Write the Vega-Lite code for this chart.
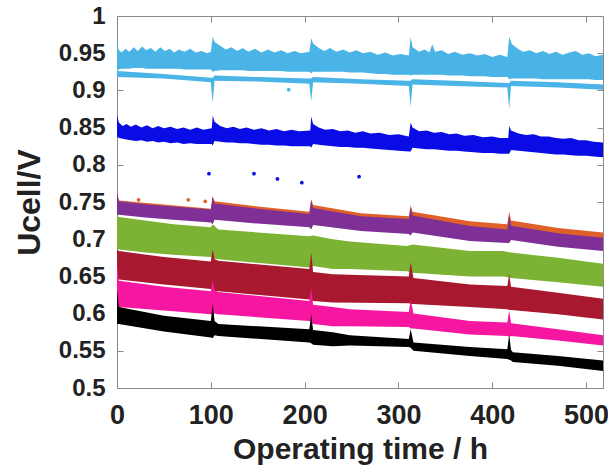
{
  "$schema": "https://vega.github.io/schema/vega-lite/v6.json",
  "width": 486,
  "height": 372,
  "autosize": "none",
  "padding": {"left": 117, "top": 16, "right": 5, "bottom": 83},
  "background": "white",
  "config": {
    "view": {"stroke": "#8a8a8a", "strokeWidth": 1},
    "axis": {
      "labelFont": "Liberation Sans",
      "labelFontWeight": "bold",
      "labelColor": "#222222",
      "titleFont": "Liberation Sans",
      "titleFontWeight": "bold",
      "titleColor": "#222222",
      "domainColor": "#8a8a8a",
      "tickColor": "#8a8a8a",
      "tickSize": -6,
      "grid": false,
      "labelFlush": false,
      "labelOverlap": false
    }
  },
  "datasets": {
    "bands": [
      {"s": "c1", "t": 0, "lo": 0.925, "hi": 0.970},
      {"s": "c1", "t": 1.5, "lo": 0.928, "hi": 0.955},
      {"s": "c1", "t": 5, "lo": 0.929, "hi": 0.951},
      {"s": "c1", "t": 9, "lo": 0.929, "hi": 0.956},
      {"s": "c1", "t": 13, "lo": 0.929, "hi": 0.952},
      {"s": "c1", "t": 18, "lo": 0.930, "hi": 0.958},
      {"s": "c1", "t": 22, "lo": 0.930, "hi": 0.953},
      {"s": "c1", "t": 27, "lo": 0.930, "hi": 0.959},
      {"s": "c1", "t": 31, "lo": 0.929, "hi": 0.954},
      {"s": "c1", "t": 36, "lo": 0.929, "hi": 0.957},
      {"s": "c1", "t": 41, "lo": 0.929, "hi": 0.952},
      {"s": "c1", "t": 46, "lo": 0.929, "hi": 0.958},
      {"s": "c1", "t": 51, "lo": 0.929, "hi": 0.953},
      {"s": "c1", "t": 56, "lo": 0.929, "hi": 0.956},
      {"s": "c1", "t": 61, "lo": 0.929, "hi": 0.951},
      {"s": "c1", "t": 66, "lo": 0.929, "hi": 0.955},
      {"s": "c1", "t": 72, "lo": 0.928, "hi": 0.952},
      {"s": "c1", "t": 78, "lo": 0.928, "hi": 0.956},
      {"s": "c1", "t": 84, "lo": 0.928, "hi": 0.951},
      {"s": "c1", "t": 90, "lo": 0.928, "hi": 0.953},
      {"s": "c1", "t": 96, "lo": 0.928, "hi": 0.950},
      {"s": "c1", "t": 100, "lo": 0.928, "hi": 0.952},
      {"s": "c1", "t": 102, "lo": 0.925, "hi": 0.972},
      {"s": "c1", "t": 104, "lo": 0.926, "hi": 0.965},
      {"s": "c1", "t": 110, "lo": 0.927, "hi": 0.960},
      {"s": "c1", "t": 116, "lo": 0.927, "hi": 0.955},
      {"s": "c1", "t": 122, "lo": 0.927, "hi": 0.958},
      {"s": "c1", "t": 128, "lo": 0.927, "hi": 0.953},
      {"s": "c1", "t": 134, "lo": 0.927, "hi": 0.957},
      {"s": "c1", "t": 140, "lo": 0.926, "hi": 0.952},
      {"s": "c1", "t": 147, "lo": 0.926, "hi": 0.956},
      {"s": "c1", "t": 154, "lo": 0.926, "hi": 0.951},
      {"s": "c1", "t": 161, "lo": 0.926, "hi": 0.955},
      {"s": "c1", "t": 168, "lo": 0.926, "hi": 0.951},
      {"s": "c1", "t": 175, "lo": 0.926, "hi": 0.954},
      {"s": "c1", "t": 182, "lo": 0.925, "hi": 0.950},
      {"s": "c1", "t": 189, "lo": 0.925, "hi": 0.953},
      {"s": "c1", "t": 196, "lo": 0.925, "hi": 0.950},
      {"s": "c1", "t": 205, "lo": 0.925, "hi": 0.952},
      {"s": "c1", "t": 207, "lo": 0.923, "hi": 0.970},
      {"s": "c1", "t": 209, "lo": 0.925, "hi": 0.963},
      {"s": "c1", "t": 215, "lo": 0.925, "hi": 0.957},
      {"s": "c1", "t": 221, "lo": 0.925, "hi": 0.953},
      {"s": "c1", "t": 227, "lo": 0.925, "hi": 0.957},
      {"s": "c1", "t": 234, "lo": 0.925, "hi": 0.952},
      {"s": "c1", "t": 241, "lo": 0.925, "hi": 0.955},
      {"s": "c1", "t": 248, "lo": 0.924, "hi": 0.951},
      {"s": "c1", "t": 255, "lo": 0.924, "hi": 0.954},
      {"s": "c1", "t": 262, "lo": 0.924, "hi": 0.950},
      {"s": "c1", "t": 270, "lo": 0.923, "hi": 0.952},
      {"s": "c1", "t": 278, "lo": 0.922, "hi": 0.948},
      {"s": "c1", "t": 286, "lo": 0.922, "hi": 0.951},
      {"s": "c1", "t": 294, "lo": 0.921, "hi": 0.947},
      {"s": "c1", "t": 302, "lo": 0.921, "hi": 0.949},
      {"s": "c1", "t": 311, "lo": 0.921, "hi": 0.947},
      {"s": "c1", "t": 313, "lo": 0.920, "hi": 0.972},
      {"s": "c1", "t": 315, "lo": 0.921, "hi": 0.958},
      {"s": "c1", "t": 322, "lo": 0.921, "hi": 0.952},
      {"s": "c1", "t": 328, "lo": 0.921, "hi": 0.955},
      {"s": "c1", "t": 333, "lo": 0.921, "hi": 0.951},
      {"s": "c1", "t": 336, "lo": 0.921, "hi": 0.962},
      {"s": "c1", "t": 339, "lo": 0.921, "hi": 0.952},
      {"s": "c1", "t": 346, "lo": 0.921, "hi": 0.954},
      {"s": "c1", "t": 353, "lo": 0.920, "hi": 0.949},
      {"s": "c1", "t": 360, "lo": 0.920, "hi": 0.952},
      {"s": "c1", "t": 368, "lo": 0.920, "hi": 0.948},
      {"s": "c1", "t": 376, "lo": 0.919, "hi": 0.950},
      {"s": "c1", "t": 384, "lo": 0.919, "hi": 0.947},
      {"s": "c1", "t": 392, "lo": 0.919, "hi": 0.949},
      {"s": "c1", "t": 400, "lo": 0.918, "hi": 0.945},
      {"s": "c1", "t": 408, "lo": 0.918, "hi": 0.948},
      {"s": "c1", "t": 416, "lo": 0.918, "hi": 0.945},
      {"s": "c1", "t": 418, "lo": 0.915, "hi": 0.972},
      {"s": "c1", "t": 421, "lo": 0.916, "hi": 0.962},
      {"s": "c1", "t": 427, "lo": 0.916, "hi": 0.956},
      {"s": "c1", "t": 433, "lo": 0.916, "hi": 0.952},
      {"s": "c1", "t": 440, "lo": 0.916, "hi": 0.954},
      {"s": "c1", "t": 447, "lo": 0.916, "hi": 0.950},
      {"s": "c1", "t": 454, "lo": 0.915, "hi": 0.953},
      {"s": "c1", "t": 461, "lo": 0.915, "hi": 0.949},
      {"s": "c1", "t": 468, "lo": 0.915, "hi": 0.952},
      {"s": "c1", "t": 475, "lo": 0.915, "hi": 0.948},
      {"s": "c1", "t": 482, "lo": 0.915, "hi": 0.951},
      {"s": "c1", "t": 489, "lo": 0.915, "hi": 0.953},
      {"s": "c1", "t": 496, "lo": 0.915, "hi": 0.948},
      {"s": "c1", "t": 503, "lo": 0.915, "hi": 0.950},
      {"s": "c1", "t": 510, "lo": 0.914, "hi": 0.946},
      {"s": "c1", "t": 518, "lo": 0.914, "hi": 0.948},

      {"s": "c2", "t": 0, "lo": 0.918, "hi": 0.926},
      {"s": "c2", "t": 50, "lo": 0.916, "hi": 0.922},
      {"s": "c2", "t": 100, "lo": 0.911, "hi": 0.917},
      {"s": "c2", "t": 102, "lo": 0.883, "hi": 0.917},
      {"s": "c2", "t": 104, "lo": 0.913, "hi": 0.920},
      {"s": "c2", "t": 150, "lo": 0.912, "hi": 0.918},
      {"s": "c2", "t": 205, "lo": 0.909, "hi": 0.916},
      {"s": "c2", "t": 207, "lo": 0.885, "hi": 0.916},
      {"s": "c2", "t": 209, "lo": 0.911, "hi": 0.918},
      {"s": "c2", "t": 260, "lo": 0.909, "hi": 0.915},
      {"s": "c2", "t": 311, "lo": 0.906, "hi": 0.913},
      {"s": "c2", "t": 313, "lo": 0.878, "hi": 0.913},
      {"s": "c2", "t": 315, "lo": 0.908, "hi": 0.915},
      {"s": "c2", "t": 360, "lo": 0.906, "hi": 0.913},
      {"s": "c2", "t": 416, "lo": 0.904, "hi": 0.910},
      {"s": "c2", "t": 418, "lo": 0.875, "hi": 0.910},
      {"s": "c2", "t": 420, "lo": 0.906, "hi": 0.913},
      {"s": "c2", "t": 470, "lo": 0.904, "hi": 0.911},
      {"s": "c2", "t": 518, "lo": 0.901, "hi": 0.908},

      {"s": "c3", "t": 0, "lo": 0.838, "hi": 0.867},
      {"s": "c3", "t": 2, "lo": 0.836, "hi": 0.857},
      {"s": "c3", "t": 6, "lo": 0.835, "hi": 0.852},
      {"s": "c3", "t": 10, "lo": 0.834, "hi": 0.855},
      {"s": "c3", "t": 15, "lo": 0.833, "hi": 0.851},
      {"s": "c3", "t": 20, "lo": 0.832, "hi": 0.854},
      {"s": "c3", "t": 26, "lo": 0.833, "hi": 0.850},
      {"s": "c3", "t": 32, "lo": 0.831, "hi": 0.853},
      {"s": "c3", "t": 38, "lo": 0.832, "hi": 0.849},
      {"s": "c3", "t": 44, "lo": 0.830, "hi": 0.852},
      {"s": "c3", "t": 50, "lo": 0.831, "hi": 0.849},
      {"s": "c3", "t": 57, "lo": 0.829, "hi": 0.851},
      {"s": "c3", "t": 64, "lo": 0.830, "hi": 0.848},
      {"s": "c3", "t": 71, "lo": 0.828, "hi": 0.850},
      {"s": "c3", "t": 78, "lo": 0.829, "hi": 0.847},
      {"s": "c3", "t": 85, "lo": 0.828, "hi": 0.850},
      {"s": "c3", "t": 92, "lo": 0.828, "hi": 0.847},
      {"s": "c3", "t": 101, "lo": 0.828, "hi": 0.849},
      {"s": "c3", "t": 102, "lo": 0.826, "hi": 0.866},
      {"s": "c3", "t": 104, "lo": 0.832, "hi": 0.858},
      {"s": "c3", "t": 110, "lo": 0.831, "hi": 0.852},
      {"s": "c3", "t": 117, "lo": 0.830, "hi": 0.849},
      {"s": "c3", "t": 124, "lo": 0.830, "hi": 0.851},
      {"s": "c3", "t": 131, "lo": 0.829, "hi": 0.848},
      {"s": "c3", "t": 138, "lo": 0.829, "hi": 0.850},
      {"s": "c3", "t": 146, "lo": 0.828, "hi": 0.847},
      {"s": "c3", "t": 154, "lo": 0.827, "hi": 0.849},
      {"s": "c3", "t": 162, "lo": 0.827, "hi": 0.846},
      {"s": "c3", "t": 170, "lo": 0.826, "hi": 0.848},
      {"s": "c3", "t": 178, "lo": 0.826, "hi": 0.845},
      {"s": "c3", "t": 186, "lo": 0.825, "hi": 0.847},
      {"s": "c3", "t": 194, "lo": 0.825, "hi": 0.845},
      {"s": "c3", "t": 206, "lo": 0.825, "hi": 0.846},
      {"s": "c3", "t": 207, "lo": 0.823, "hi": 0.865},
      {"s": "c3", "t": 209, "lo": 0.828, "hi": 0.855},
      {"s": "c3", "t": 215, "lo": 0.827, "hi": 0.850},
      {"s": "c3", "t": 222, "lo": 0.826, "hi": 0.847},
      {"s": "c3", "t": 230, "lo": 0.825, "hi": 0.848},
      {"s": "c3", "t": 238, "lo": 0.824, "hi": 0.845},
      {"s": "c3", "t": 246, "lo": 0.824, "hi": 0.846},
      {"s": "c3", "t": 254, "lo": 0.823, "hi": 0.843},
      {"s": "c3", "t": 262, "lo": 0.823, "hi": 0.845},
      {"s": "c3", "t": 270, "lo": 0.822, "hi": 0.842},
      {"s": "c3", "t": 280, "lo": 0.821, "hi": 0.843},
      {"s": "c3", "t": 290, "lo": 0.820, "hi": 0.840},
      {"s": "c3", "t": 300, "lo": 0.819, "hi": 0.841},
      {"s": "c3", "t": 311, "lo": 0.818, "hi": 0.838},
      {"s": "c3", "t": 313, "lo": 0.818, "hi": 0.857},
      {"s": "c3", "t": 315, "lo": 0.823, "hi": 0.850},
      {"s": "c3", "t": 322, "lo": 0.822, "hi": 0.845},
      {"s": "c3", "t": 330, "lo": 0.821, "hi": 0.846},
      {"s": "c3", "t": 338, "lo": 0.821, "hi": 0.843},
      {"s": "c3", "t": 346, "lo": 0.820, "hi": 0.844},
      {"s": "c3", "t": 354, "lo": 0.819, "hi": 0.841},
      {"s": "c3", "t": 362, "lo": 0.819, "hi": 0.842},
      {"s": "c3", "t": 370, "lo": 0.818, "hi": 0.839},
      {"s": "c3", "t": 380, "lo": 0.817, "hi": 0.840},
      {"s": "c3", "t": 390, "lo": 0.816, "hi": 0.837},
      {"s": "c3", "t": 400, "lo": 0.816, "hi": 0.838},
      {"s": "c3", "t": 408, "lo": 0.815, "hi": 0.836},
      {"s": "c3", "t": 417, "lo": 0.815, "hi": 0.836},
      {"s": "c3", "t": 418, "lo": 0.815, "hi": 0.852},
      {"s": "c3", "t": 420, "lo": 0.820, "hi": 0.846},
      {"s": "c3", "t": 428, "lo": 0.819, "hi": 0.842},
      {"s": "c3", "t": 436, "lo": 0.818, "hi": 0.840},
      {"s": "c3", "t": 444, "lo": 0.817, "hi": 0.841},
      {"s": "c3", "t": 452, "lo": 0.816, "hi": 0.838},
      {"s": "c3", "t": 460, "lo": 0.815, "hi": 0.838},
      {"s": "c3", "t": 468, "lo": 0.814, "hi": 0.836},
      {"s": "c3", "t": 476, "lo": 0.814, "hi": 0.835},
      {"s": "c3", "t": 484, "lo": 0.813, "hi": 0.836},
      {"s": "c3", "t": 492, "lo": 0.812, "hi": 0.833},
      {"s": "c3", "t": 500, "lo": 0.812, "hi": 0.833},
      {"s": "c3", "t": 508, "lo": 0.811, "hi": 0.831},
      {"s": "c3", "t": 518, "lo": 0.810, "hi": 0.830},

      {"s": "c5", "t": 0, "lo": 0.733, "hi": 0.763},
      {"s": "c5", "t": 2, "lo": 0.733, "hi": 0.751},
      {"s": "c5", "t": 30, "lo": 0.729, "hi": 0.747},
      {"s": "c5", "t": 60, "lo": 0.726, "hi": 0.744},
      {"s": "c5", "t": 100, "lo": 0.7225, "hi": 0.740},
      {"s": "c5", "t": 102, "lo": 0.720, "hi": 0.757},
      {"s": "c5", "t": 104, "lo": 0.726, "hi": 0.748},
      {"s": "c5", "t": 150, "lo": 0.721, "hi": 0.741},
      {"s": "c5", "t": 205, "lo": 0.716, "hi": 0.734},
      {"s": "c5", "t": 207, "lo": 0.713, "hi": 0.752},
      {"s": "c5", "t": 209, "lo": 0.719, "hi": 0.742},
      {"s": "c5", "t": 260, "lo": 0.711, "hi": 0.731},
      {"s": "c5", "t": 311, "lo": 0.707, "hi": 0.727},
      {"s": "c5", "t": 313, "lo": 0.705, "hi": 0.742},
      {"s": "c5", "t": 315, "lo": 0.709, "hi": 0.732},
      {"s": "c5", "t": 376, "lo": 0.6975, "hi": 0.7176},
      {"s": "c5", "t": 416, "lo": 0.695, "hi": 0.713},
      {"s": "c5", "t": 418, "lo": 0.695, "hi": 0.733},
      {"s": "c5", "t": 420, "lo": 0.699, "hi": 0.718},
      {"s": "c5", "t": 470, "lo": 0.690, "hi": 0.708},
      {"s": "c5", "t": 518, "lo": 0.684, "hi": 0.702},

      {"s": "c6", "t": 0, "lo": 0.686, "hi": 0.731},
      {"s": "c6", "t": 2, "lo": 0.686, "hi": 0.730},
      {"s": "c6", "t": 30, "lo": 0.682, "hi": 0.725},
      {"s": "c6", "t": 60, "lo": 0.679, "hi": 0.720},
      {"s": "c6", "t": 100, "lo": 0.676, "hi": 0.716},
      {"s": "c6", "t": 102, "lo": 0.674, "hi": 0.720},
      {"s": "c6", "t": 108, "lo": 0.673, "hi": 0.713},
      {"s": "c6", "t": 205, "lo": 0.662, "hi": 0.704},
      {"s": "c6", "t": 209, "lo": 0.664, "hi": 0.705},
      {"s": "c6", "t": 230, "lo": 0.660, "hi": 0.700},
      {"s": "c6", "t": 248, "lo": 0.660, "hi": 0.697},
      {"s": "c6", "t": 309, "lo": 0.657, "hi": 0.691},
      {"s": "c6", "t": 315, "lo": 0.655, "hi": 0.693},
      {"s": "c6", "t": 376, "lo": 0.650, "hi": 0.684},
      {"s": "c6", "t": 412, "lo": 0.650, "hi": 0.684},
      {"s": "c6", "t": 420, "lo": 0.648, "hi": 0.682},
      {"s": "c6", "t": 470, "lo": 0.642, "hi": 0.675},
      {"s": "c6", "t": 518, "lo": 0.636, "hi": 0.667},

      {"s": "c7", "t": 0, "lo": 0.646, "hi": 0.686},
      {"s": "c7", "t": 2, "lo": 0.646, "hi": 0.684},
      {"s": "c7", "t": 50, "lo": 0.639, "hi": 0.676},
      {"s": "c7", "t": 100, "lo": 0.633, "hi": 0.670},
      {"s": "c7", "t": 102, "lo": 0.632, "hi": 0.686},
      {"s": "c7", "t": 104, "lo": 0.630, "hi": 0.673},
      {"s": "c7", "t": 108, "lo": 0.630, "hi": 0.671},
      {"s": "c7", "t": 205, "lo": 0.619, "hi": 0.660},
      {"s": "c7", "t": 207, "lo": 0.618, "hi": 0.682},
      {"s": "c7", "t": 209, "lo": 0.617, "hi": 0.656},
      {"s": "c7", "t": 230, "lo": 0.615, "hi": 0.653},
      {"s": "c7", "t": 311, "lo": 0.614, "hi": 0.650},
      {"s": "c7", "t": 313, "lo": 0.613, "hi": 0.669},
      {"s": "c7", "t": 316, "lo": 0.613, "hi": 0.648},
      {"s": "c7", "t": 376, "lo": 0.609, "hi": 0.639},
      {"s": "c7", "t": 416, "lo": 0.606, "hi": 0.637},
      {"s": "c7", "t": 418, "lo": 0.605, "hi": 0.653},
      {"s": "c7", "t": 420, "lo": 0.605, "hi": 0.636},
      {"s": "c7", "t": 470, "lo": 0.599, "hi": 0.628},
      {"s": "c7", "t": 518, "lo": 0.592, "hi": 0.620},

      {"s": "c8", "t": 0, "lo": 0.609, "hi": 0.668},
      {"s": "c8", "t": 2, "lo": 0.609, "hi": 0.644},
      {"s": "c8", "t": 50, "lo": 0.604, "hi": 0.636},
      {"s": "c8", "t": 100, "lo": 0.599, "hi": 0.630},
      {"s": "c8", "t": 102, "lo": 0.598, "hi": 0.646},
      {"s": "c8", "t": 104, "lo": 0.600, "hi": 0.631},
      {"s": "c8", "t": 108, "lo": 0.599, "hi": 0.629},
      {"s": "c8", "t": 205, "lo": 0.590, "hi": 0.617},
      {"s": "c8", "t": 207, "lo": 0.589, "hi": 0.635},
      {"s": "c8", "t": 209, "lo": 0.586, "hi": 0.612},
      {"s": "c8", "t": 230, "lo": 0.583, "hi": 0.609},
      {"s": "c8", "t": 248, "lo": 0.583, "hi": 0.606},
      {"s": "c8", "t": 311, "lo": 0.582, "hi": 0.602},
      {"s": "c8", "t": 313, "lo": 0.580, "hi": 0.619},
      {"s": "c8", "t": 316, "lo": 0.580, "hi": 0.600},
      {"s": "c8", "t": 376, "lo": 0.572, "hi": 0.590},
      {"s": "c8", "t": 416, "lo": 0.570, "hi": 0.588},
      {"s": "c8", "t": 418, "lo": 0.569, "hi": 0.604},
      {"s": "c8", "t": 420, "lo": 0.570, "hi": 0.587},
      {"s": "c8", "t": 470, "lo": 0.564, "hi": 0.579},
      {"s": "c8", "t": 518, "lo": 0.557, "hi": 0.571},

      {"s": "c9", "t": 0, "lo": 0.586, "hi": 0.632},
      {"s": "c9", "t": 2, "lo": 0.586, "hi": 0.609},
      {"s": "c9", "t": 50, "lo": 0.576, "hi": 0.597},
      {"s": "c9", "t": 100, "lo": 0.568, "hi": 0.590},
      {"s": "c9", "t": 102, "lo": 0.567, "hi": 0.613},
      {"s": "c9", "t": 104, "lo": 0.571, "hi": 0.590},
      {"s": "c9", "t": 108, "lo": 0.570, "hi": 0.586},
      {"s": "c9", "t": 205, "lo": 0.561, "hi": 0.579},
      {"s": "c9", "t": 207, "lo": 0.560, "hi": 0.599},
      {"s": "c9", "t": 209, "lo": 0.558, "hi": 0.578},
      {"s": "c9", "t": 230, "lo": 0.556, "hi": 0.575},
      {"s": "c9", "t": 248, "lo": 0.557, "hi": 0.571},
      {"s": "c9", "t": 311, "lo": 0.555, "hi": 0.566},
      {"s": "c9", "t": 313, "lo": 0.554, "hi": 0.579},
      {"s": "c9", "t": 316, "lo": 0.550, "hi": 0.561},
      {"s": "c9", "t": 376, "lo": 0.543, "hi": 0.555},
      {"s": "c9", "t": 416, "lo": 0.539, "hi": 0.552},
      {"s": "c9", "t": 418, "lo": 0.538, "hi": 0.572},
      {"s": "c9", "t": 420, "lo": 0.537, "hi": 0.551},
      {"s": "c9", "t": 422, "lo": 0.535, "hi": 0.548},
      {"s": "c9", "t": 470, "lo": 0.530, "hi": 0.543},
      {"s": "c9", "t": 518, "lo": 0.523, "hi": 0.537}
    ],
    "orange": [
      {"t": 0, "lo": 0.740, "hi": 0.763},
      {"t": 2, "lo": 0.745, "hi": 0.752},
      {"t": 100, "lo": 0.734, "hi": 0.741},
      {"t": 102, "lo": 0.730, "hi": 0.758},
      {"t": 104, "lo": 0.742, "hi": 0.751},
      {"t": 150, "lo": 0.735, "hi": 0.744},
      {"t": 205, "lo": 0.728, "hi": 0.737},
      {"t": 207, "lo": 0.725, "hi": 0.754},
      {"t": 209, "lo": 0.736, "hi": 0.746},
      {"t": 260, "lo": 0.726, "hi": 0.735},
      {"t": 311, "lo": 0.722, "hi": 0.731},
      {"t": 313, "lo": 0.720, "hi": 0.746},
      {"t": 315, "lo": 0.726, "hi": 0.737},
      {"t": 376, "lo": 0.713, "hi": 0.724},
      {"t": 416, "lo": 0.709, "hi": 0.720},
      {"t": 418, "lo": 0.709, "hi": 0.737},
      {"t": 420, "lo": 0.714, "hi": 0.725},
      {"t": 470, "lo": 0.705, "hi": 0.715},
      {"t": 518, "lo": 0.699, "hi": 0.709}
    ],
    "dots": [
      {"c": "blue", "t": 98, "v": 0.788},
      {"c": "blue", "t": 146, "v": 0.788},
      {"c": "blue", "t": 171, "v": 0.781},
      {"c": "blue", "t": 197, "v": 0.776},
      {"c": "blue", "t": 258, "v": 0.784},
      {"c": "light", "t": 183, "v": 0.901},
      {"c": "orange", "t": 23, "v": 0.753},
      {"c": "orange", "t": 76, "v": 0.753},
      {"c": "orange", "t": 94, "v": 0.751}
    ]
  },
  "resolve": {"axis": {"x": "independent", "y": "independent"}},
  "layer": [
    {
      "data": {"name": "orange"},
      "mark": {"type": "area", "color": "#e0602a"},
      "encoding": {
        "x": {"field": "t", "type": "quantitative", "scale": {"domain": [0, 518], "nice": false},
          "axis": {"orient": "bottom", "values": [0, 100, 200, 300, 400, 500], "format": "d",
            "labelFontSize": 27, "labelPadding": 20,
            "title": "Operating time / h", "titleFontSize": 30, "titlePadding": 6}},
        "y": {"field": "hi", "type": "quantitative", "scale": {"domain": [0.5, 1], "nice": false},
          "axis": {"orient": "left", "values": [0.5, 0.55, 0.6, 0.65, 0.7, 0.75, 0.8, 0.85, 0.9, 0.95, 1], "format": "~g",
            "labelFontSize": 24, "labelPadding": 18,
            "title": "Ucell/V", "titleFontSize": 32, "titlePadding": 12}},
        "y2": {"field": "lo"}
      }
    },
    {
      "data": {"name": "bands"},
      "mark": {"type": "area"},
      "encoding": {
        "x": {"field": "t", "type": "quantitative", "axis": null},
        "y": {"field": "hi", "type": "quantitative", "axis": null},
        "y2": {"field": "lo"},
        "color": {"field": "s", "type": "nominal", "legend": null,
          "scale": {"domain": ["c1", "c2", "c3", "c5", "c6", "c7", "c8", "c9"],
            "range": ["#4ab4e6", "#4ab4e6", "#0a0ce6", "#7e3096", "#7cb334", "#a8182e", "#f7169f", "#000000"]}}
      }
    },
    {
      "data": {"name": "dots"},
      "mark": {"type": "circle", "size": 14, "opacity": 1},
      "encoding": {
        "x": {"field": "t", "type": "quantitative", "axis": null},
        "y": {"field": "v", "type": "quantitative", "axis": null},
        "fill": {"field": "c", "type": "nominal", "legend": null,
          "scale": {"domain": ["blue", "light", "orange"], "range": ["#0a0ce6", "#4ab4e6", "#e0602a"]}}
      }
    },
    {
      "data": {"name": "orange"},
      "mark": {"type": "point", "opacity": 0},
      "encoding": {
        "x": {"field": "t", "type": "quantitative",
          "axis": {"orient": "top", "values": [0, 100, 200, 300, 400, 500], "labels": false, "title": null}},
        "y": {"field": "hi", "type": "quantitative",
          "axis": {"orient": "right", "values": [0.5, 0.55, 0.6, 0.65, 0.7, 0.75, 0.8, 0.85, 0.9, 0.95, 1], "labels": false, "title": null}}
      }
    }
  ]
}
